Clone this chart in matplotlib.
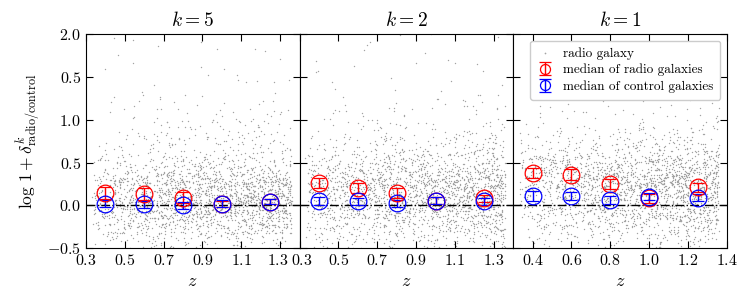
import numpy as np
import matplotlib.pyplot as plt
import matplotlib.transforms as mtransforms

plt.rcParams['mathtext.fontset'] = 'cm'
plt.rcParams['font.family'] = 'serif'
plt.rcParams['font.serif'] = ['cmr10', 'DejaVu Serif']
plt.rcParams['axes.formatter.use_mathtext'] = True

ks = [5, 2, 1]
zbins = [0.4, 0.6, 0.8, 1.0, 1.25]

# medians, one row per k
radio_med = [[0.14, 0.13, 0.09, 0.015, 0.04],
             [0.26, 0.205, 0.14, 0.053, 0.08],
             [0.38, 0.36, 0.25, 0.08, 0.21]]
radio_err = [[0.07, 0.07, 0.06, 0.04, 0.03],
             [0.06, 0.06, 0.06, 0.04, 0.04],
             [0.06, 0.06, 0.06, 0.05, 0.05]]
control_med = [[0.02, 0.01, 0.0, 0.02, 0.04],
               [0.053, 0.049, 0.022, 0.056, 0.049],
               [0.107, 0.111, 0.061, 0.099, 0.088]]
control_err = [[0.04, 0.04, 0.04, 0.04, 0.03],
               [0.05, 0.04, 0.04, 0.04, 0.04],
               [0.06, 0.05, 0.05, 0.04, 0.04]]

yticks = [-0.5, 0.0, 0.5, 1.0, 1.5, 2.0]
ytick_labels = ['$-0.5$', '$0.0$', '$0.5$', '$1.0$', '$0.5$', '$2.0$']
xticks_a = [0.3, 0.5, 0.7, 0.9, 1.1, 1.3]
xticks_b = [0.4, 0.6, 0.8, 1.0, 1.2, 1.4]

# background cloud of individual radio galaxies (too dense to read point by point)
rng = np.random.default_rng(7)
core_sd = [0.24, 0.28, 0.32]
core_mu = [0.02, 0.06, 0.12]

fig, axes = plt.subplots(1, 3, figsize=(7.47, 2.94), dpi=100, sharey=True)
fig.subplots_adjust(left=0.115, right=0.973, top=0.884, bottom=0.156, wspace=0)

for i, ax in enumerate(axes):
    n = 2200
    zz = 0.33 + 1.03 * rng.random(n) ** 0.8
    yy = core_mu[i] + rng.normal(0, core_sd[i], n)
    tail = rng.random(n) < 0.22
    yy[tail] = 0.2 + rng.exponential(0.45, tail.sum())
    ax.scatter(zz, yy, s=1.0, color='0.64', lw=0, label='radio galaxy')
    ax.axhline(0, color='k', ls='-.', lw=1)
    ax.errorbar(zbins, radio_med[i], yerr=radio_err[i], fmt='o', mfc='none', mec='red',
                mew=0.9, ms=12, color='red', ecolor='red', capsize=4, elinewidth=1,
                label='median of radio galaxies')
    ax.errorbar(zbins, control_med[i], yerr=control_err[i], fmt='o', mfc='none', mec='blue',
                mew=0.9, ms=12, color='blue', ecolor='blue', capsize=4, elinewidth=1,
                label='median of control galaxies')
    ax.set_xlim(0.3, 1.4)
    ax.set_ylim(-0.5, 2.0)
    if i < 2:
        ax.set_xticks(xticks_a)
        ax.set_xticklabels(['$%.1f$' % t for t in xticks_a])
    else:
        ax.set_xticks(xticks_b)
        ax.set_xticklabels(['$%.1f$' % t for t in xticks_b])
    ax.tick_params(direction='in', top=True, right=True, labelsize=11.5, length=5)
    ax.set_xlabel('$z$', fontsize=13)
    ax.set_title('$k=%d$' % ks[i], fontsize=14)

# the "1.3" of the first panel and the "0.3" of the second sit edge to edge
for lab, dx in [(axes[0].get_xticklabels()[-1], -2), (axes[1].get_xticklabels()[0], 2)]:
    lab.set_transform(lab.get_transform() +
                      mtransforms.ScaledTranslation(dx / 100, 0, fig.dpi_scale_trans))

axes[0].set_yticks(yticks)
axes[0].set_yticklabels(ytick_labels)
axes[0].set_ylabel(r'$\log\,1+\delta^k_{\rm radio/control}$', fontsize=12.5)

leg = axes[2].legend(loc='upper right', fontsize=9.5, markerscale=0.6, framealpha=1,
                     edgecolor='0.8', handlelength=1.2, borderpad=0.5, labelspacing=0.3)
leg.legend_handles[0].set_sizes([1.5])

fig.savefig('out.png', dpi=100)
